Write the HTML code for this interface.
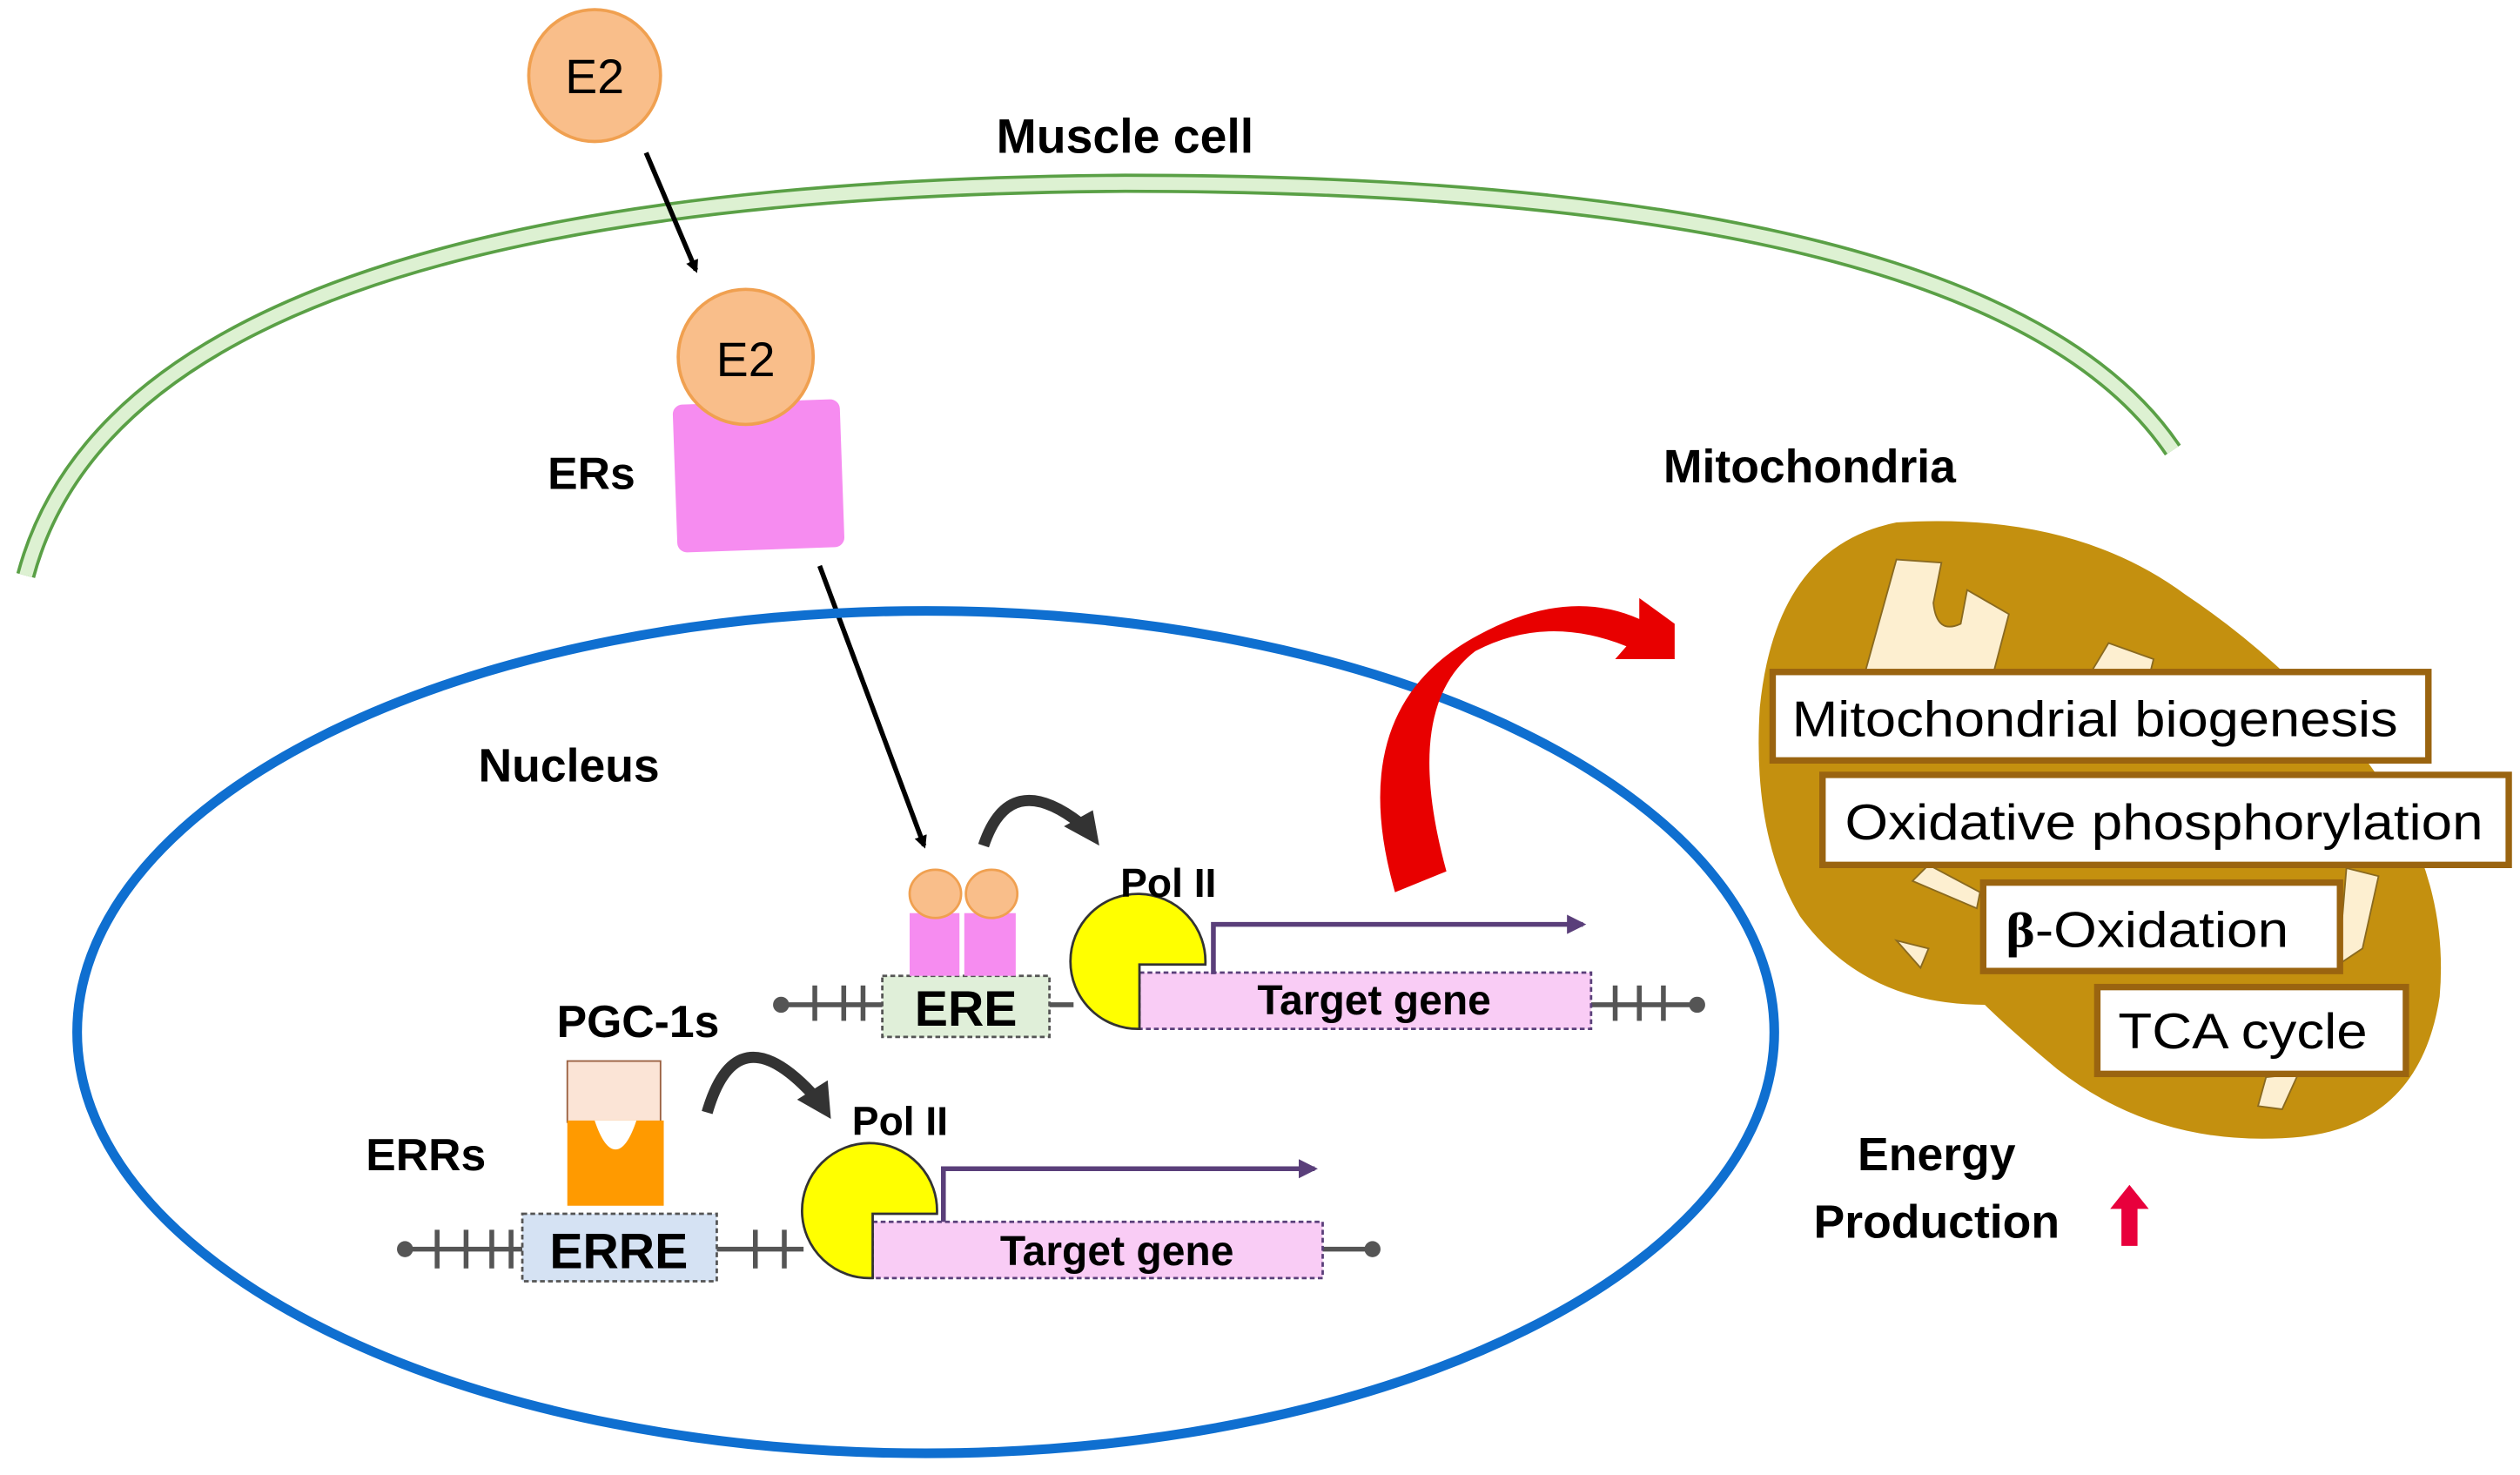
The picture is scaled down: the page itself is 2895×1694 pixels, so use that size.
<!DOCTYPE html>
<html><head><meta charset="utf-8"><style>
html,body{margin:0;padding:0;background:#fff;}
svg{display:block;}
text{font-family:"Liberation Sans",Arial,sans-serif;}
.b{font-weight:bold;}
</style></head><body>
<svg width="2895" height="1694" viewBox="0 0 1568 917.5" preserveAspectRatio="none" xmlns="http://www.w3.org/2000/svg">
<defs>
<marker id="ab" markerWidth="8" markerHeight="8" refX="6" refY="4" orient="auto" markerUnits="userSpaceOnUse"><path d="M0,0 L8,4 L0,8 Z" fill="#000"/></marker>
<marker id="ap" markerWidth="12" markerHeight="12" refX="10" refY="6" orient="auto" markerUnits="userSpaceOnUse"><path d="M0,0 L12,6 L0,12 Z" fill="#5a3f7a"/></marker>
</defs>
<rect width="1568" height="917.5" fill="#fff"/>
<!-- muscle cell membrane -->
<path d="M16,358 Q80,118 700,114 Q1240,114 1352,280" fill="none" stroke="#5aa046" stroke-width="12"/>
<path d="M16,358 Q80,118 700,114 Q1240,114 1352,280" fill="none" stroke="#ddf1d2" stroke-width="8"/>
<text x="700" y="95" class="b" font-size="30" text-anchor="middle">Muscle cell</text>
<!-- E2 -->
<circle cx="370" cy="47" r="41" fill="#f9be8a" stroke="#f0a050" stroke-width="2"/>
<text x="370" y="58" font-size="30" text-anchor="middle">E2</text>
<line x1="402" y1="95" x2="433" y2="168" stroke="#000" stroke-width="3" marker-end="url(#ab)"/>
<rect x="420" y="250" width="104" height="92" rx="6" fill="#f68cf0" transform="rotate(-2 472 296)"/>
<circle cx="464" cy="222" r="42" fill="#f9be8a" stroke="#f0a050" stroke-width="2"/>
<text x="464" y="234" font-size="30" text-anchor="middle">E2</text>
<text x="368" y="304" class="b" font-size="28" text-anchor="middle">ERs</text>
<line x1="510" y1="352" x2="575" y2="526" stroke="#000" stroke-width="3" marker-end="url(#ab)"/>
<!-- nucleus -->
<ellipse cx="576" cy="642" rx="528" ry="262" fill="none" stroke="#0f6fd0" stroke-width="6"/>
<text x="354" y="486" class="b" font-size="29" text-anchor="middle">Nucleus</text>
<!-- red arrow -->
<path d="M868,555 Q835,440 920,395 Q975,365 1020,385 L1020,372 L1042,388 L1042,410 L1005,410 L1012,402 Q962,382 918,405 Q872,440 900,542 Z" fill="#e80000"/>
<!-- DNA -->
<g stroke="#555" stroke-width="3">
<line x1="482" y1="625" x2="549" y2="625"/><line x1="653" y1="625" x2="668" y2="625"/><line x1="990" y1="625" x2="1060" y2="625"/>
<line x1="507" y1="613" x2="507" y2="635"/><line x1="525" y1="613" x2="525" y2="635"/><line x1="537" y1="613" x2="537" y2="635"/>
<line x1="1005" y1="613" x2="1005" y2="635"/><line x1="1020" y1="613" x2="1020" y2="635"/><line x1="1035" y1="613" x2="1035" y2="635"/>
<line x1="248" y1="777" x2="325" y2="777"/><line x1="446" y1="777" x2="500" y2="777"/><line x1="823" y1="777" x2="858" y2="777"/>
<line x1="272" y1="765" x2="272" y2="789"/><line x1="290" y1="765" x2="290" y2="789"/><line x1="306" y1="765" x2="306" y2="789"/><line x1="318" y1="765" x2="318" y2="789"/>
<line x1="470" y1="765" x2="470" y2="789"/><line x1="488" y1="765" x2="488" y2="789"/>
</g>
<g fill="#555"><circle cx="486" cy="625" r="5"/><circle cx="1056" cy="625" r="5"/><circle cx="252" cy="777" r="5"/><circle cx="854" cy="777" r="5"/></g>
<!-- ERE -->
<rect x="549" y="607" width="104" height="38" fill="#e0efd9" stroke="#555" stroke-width="1.5" stroke-dasharray="3,2"/>
<text x="601" y="638" class="b" font-size="31" text-anchor="middle">ERE</text>
<rect x="566" y="568" width="31" height="39" fill="#f68cf0"/>
<rect x="600" y="568" width="32" height="39" fill="#f68cf0"/>
<ellipse cx="582" cy="556" rx="16" ry="15" fill="#f9be8a" stroke="#f0a050" stroke-width="1.5"/>
<ellipse cx="617" cy="556" rx="16" ry="15" fill="#f9be8a" stroke="#f0a050" stroke-width="1.5"/>
<path d="M612,526 Q628,478 672,512" fill="none" stroke="#333" stroke-width="7"/>
<path d="M662,514 L684,526 L680,504 Z" fill="#333"/>
<!-- target gene upper -->
<rect x="709" y="605" width="281" height="35" fill="#f9ccf5" stroke="#5a3f7a" stroke-width="1.5" stroke-dasharray="3,2"/>
<text x="855" y="631" class="b" font-size="26" text-anchor="middle">Target gene</text>
<polyline points="755,606 755,575 985,575" fill="none" stroke="#5a3f7a" stroke-width="3" marker-end="url(#ap)"/>
<path d="M709,640 A42,42 0 1 1 750,600 L709,600 Z" fill="#ffff00" stroke="#333" stroke-width="1.5"/>
<text x="727" y="558" class="b" font-size="25" text-anchor="middle">Pol II</text>
<!-- ERRE -->
<rect x="325" y="755" width="121" height="42" fill="#d5e2f3" stroke="#555" stroke-width="1.5" stroke-dasharray="3,2"/>
<text x="385" y="789" class="b" font-size="31" text-anchor="middle">ERRE</text>
<rect x="353" y="660" width="58" height="38" fill="#fbe4d6" stroke="#9a6040" stroke-width="1"/>
<path d="M353,697 L413,697 L413,750 L353,750 Z" fill="#ff9a00"/>
<path d="M370,697 L396,697 Q390,715 383,715 Q376,715 370,697 Z" fill="#fff"/>
<text x="397" y="645" class="b" font-size="28" text-anchor="middle">PGC-1s</text>
<text x="265" y="728" class="b" font-size="28" text-anchor="middle">ERRs</text>
<path d="M440,692 Q458,630 505,680" fill="none" stroke="#333" stroke-width="7"/>
<path d="M496,684 L517,696 L515,672 Z" fill="#333"/>
<rect x="543" y="760" width="280" height="35" fill="#f9ccf5" stroke="#5a3f7a" stroke-width="1.5" stroke-dasharray="3,2"/>
<text x="695" y="787" class="b" font-size="26" text-anchor="middle">Target gene</text>
<polyline points="587,760 587,727 818,727" fill="none" stroke="#5a3f7a" stroke-width="3" marker-end="url(#ap)"/>
<path d="M543,795 A42,42 0 1 1 583,755 L543,755 Z" fill="#ffff00" stroke="#333" stroke-width="1.5"/>
<text x="560" y="706" class="b" font-size="25" text-anchor="middle">Pol II</text>
<!-- mitochondria -->
<text x="1126" y="300" class="b" font-size="29" text-anchor="middle">Mitochondria</text>
<path d="M1180,325 Q1290,318 1360,370 Q1420,410 1470,470 Q1525,540 1518,620 Q1505,705 1420,708 Q1340,712 1280,665 Q1250,640 1235,625 Q1160,625 1120,570 Q1090,520 1095,440 Q1105,340 1180,325 Z" fill="#c4900f"/>
<g fill="#fdefd0" stroke="#8a6a20" stroke-width="1">
<path d="M1180,348 L1208,350 L1203,375 Q1205,395 1220,388 L1224,367 L1250,382 L1240,420 L1160,420 Z"/>
<path d="M1300,420 L1312,400 L1340,410 L1335,430 Z"/>
<path d="M1230,565 L1190,548 L1200,538 L1232,555 Z"/>
<path d="M1410,670 L1430,668 L1420,690 L1405,688 Z"/>
<path d="M1460,540 L1480,545 L1470,590 L1455,600 Z"/>
<path d="M1180,585 L1200,590 L1195,602 Z"/>
</g>
<g fill="#fff" stroke="#9a6410" stroke-width="4">
<rect x="1103" y="418" width="408" height="55"/>
<rect x="1134" y="482" width="427" height="56"/>
<rect x="1234" y="549" width="222" height="55"/>
<rect x="1305" y="614" width="192" height="54"/>
</g>
<text x="1115" y="458" font-size="31" textLength="377" lengthAdjust="spacingAndGlyphs">Mitochondrial biogenesis</text>
<text x="1148" y="522" font-size="31" textLength="397" lengthAdjust="spacingAndGlyphs">Oxidative phosphorylation</text>
<text x="1248" y="589" font-size="31" textLength="176" lengthAdjust="spacingAndGlyphs"><tspan font-family="Liberation Serif" font-weight="bold">β</tspan>-Oxidation</text>
<text x="1318" y="652" font-size="31" textLength="155" lengthAdjust="spacingAndGlyphs">TCA cycle</text>
<text x="1205" y="728" class="b" font-size="29" text-anchor="middle">Energy</text>
<text x="1205" y="770" class="b" font-size="29" text-anchor="middle">Production</text>
<path d="M1320,775 L1320,752 L1313,752 L1325,737 L1337,752 L1330,752 L1330,775 Z" fill="#e8003c"/>
</svg>
</body></html>
